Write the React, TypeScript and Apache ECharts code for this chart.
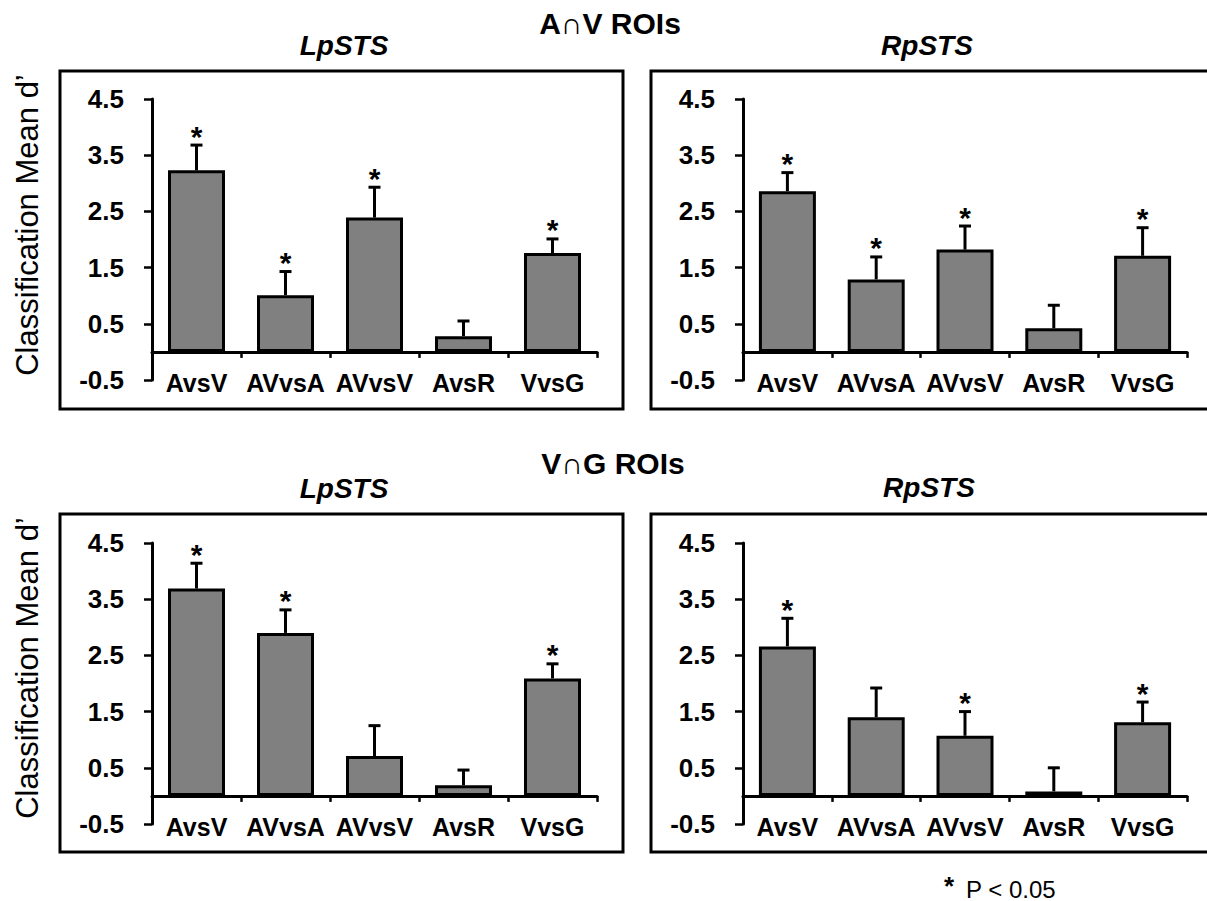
import React, { useEffect, useRef } from "react";
import * as echarts from "echarts";

// ---- data ----
const categories = ["AvsV", "AVvsA", "AVvsV", "AvsR", "VvsG"];
const yMin = -0.5;
const yMax = 4.5;
const yStep = 1;

// A∩V ROIs
const avLeftMean = [3.23, 1.01, 2.39, 0.28, 1.76];
const avLeftSem = [0.45, 0.42, 0.54, 0.27, 0.25];
const avLeftSig = [1, 1, 1, 0, 1];
const avRightMean = [2.86, 1.29, 1.82, 0.42, 1.71];
const avRightSem = [0.33, 0.4, 0.42, 0.41, 0.5];
const avRightSig = [1, 1, 1, 0, 1];

// V∩G ROIs
const vgLeftMean = [3.69, 2.9, 0.71, 0.19, 2.09];
const vgLeftSem = [0.45, 0.41, 0.54, 0.27, 0.26];
const vgLeftSig = [1, 1, 0, 0, 1];
const vgRightMean = [2.66, 1.4, 1.07, 0.08, 1.31];
const vgRightSem = [0.5, 0.52, 0.43, 0.42, 0.36];
const vgRightSig = [1, 0, 1, 0, 1];

const groupTitles = ["A\u2229V ROIs", "V\u2229G ROIs"];
const panelTitles = ["LpSTS", "RpSTS"];
const yAxisTitle = "Classification Mean d\u2019";
const footnoteStar = "*";
const footnoteText = "P < 0.05";

const FONT = "'Liberation Sans', Arial, Helvetica, sans-serif";

const panels = [
  { mean: avLeftMean, sem: avLeftSem, sig: avLeftSig, left: 152, top: 99, width: 445 },
  { mean: avRightMean, sem: avRightSem, sig: avRightSig, left: 743, top: 99, width: 444 },
  { mean: vgLeftMean, sem: vgLeftSem, sig: vgLeftSig, left: 152, top: 543, width: 445 },
  { mean: vgRightMean, sem: vgRightSem, sig: vgRightSig, left: 743, top: 543, width: 444 },
];

function buildOption() {
  const grid: any[] = [];
  const xAxis: any[] = [];
  const yAxis: any[] = [];
  const series: any[] = [];

  panels.forEach((p, i) => {
    grid.push({
      left: p.left,
      top: p.top,
      width: p.width,
      height: 281,
      containLabel: false,
      outerBoundsMode: "none",
    });
    xAxis.push({
      type: "category",
      gridIndex: i,
      data: categories,
      axisLine: { show: true, onZero: true, lineStyle: { color: "#000", width: 3 } },
      axisTick: { show: true, length: 6, lineStyle: { color: "#000", width: 2.5 } },
      axisLabel: {
        interval: 0,
        margin: -10,
        color: "#000",
        fontSize: 25,
        fontWeight: "bold",
        fontFamily: FONT,
      },
      splitLine: { show: false },
    });
    yAxis.push({
      type: "value",
      gridIndex: i,
      min: yMin,
      max: yMax,
      interval: yStep,
      axisLine: { show: true, lineStyle: { color: "#000", width: 3 } },
      axisTick: { show: true, length: 8, lineStyle: { color: "#000", width: 2.5 } },
      axisLabel: {
        margin: 28,
        color: "#000",
        fontSize: 26,
        fontWeight: "bold",
        fontFamily: FONT,
        formatter: (v: number) => v.toFixed(1),
      },
      splitLine: { show: false },
    });
    series.push({
      type: "bar",
      xAxisIndex: i,
      yAxisIndex: i,
      data: p.mean,
      barWidth: 57,
      itemStyle: { color: "#808080", borderColor: "#000", borderWidth: 3 },
      z: 2,
    });
    series.push({
      type: "custom",
      xAxisIndex: i,
      yAxisIndex: i,
      z: 3,
      encode: { x: 0, y: 1 },
      data: p.mean.map((m, k) => [k, m, +(m + p.sem[k]).toFixed(3), p.sig[k]]),
      renderItem: (params: any, api: any) => {
        const idx = api.value(0);
        const m = api.value(1);
        const t = api.value(2);
        const s = api.value(3);
        const p0 = api.coord([idx, m]);
        const p1 = api.coord([idx, t]);
        const children: any[] = [
          {
            type: "line",
            shape: { x1: p0[0], y1: p0[1], x2: p1[0], y2: p1[1] },
            style: { stroke: "#000", lineWidth: 3 },
          },
          {
            type: "line",
            shape: { x1: p1[0] - 6, y1: p1[1], x2: p1[0] + 6, y2: p1[1] },
            style: { stroke: "#000", lineWidth: 3 },
          },
        ];
        if (s) {
          children.push({
            type: "text",
            x: p1[0],
            y: p1[1] - 9,
            style: {
              text: "*",
              fontSize: 30,
              fontWeight: "bold",
              fontFamily: FONT,
              fill: "#000",
              align: "center",
              verticalAlign: "middle",
            },
          });
        }
        return { type: "group", children };
      },
    });
  });

  const boxes = [
    { x: 60, y: 71 },
    { x: 651, y: 71 },
    { x: 60, y: 514 },
    { x: 651, y: 514 },
  ].map((b) => ({
    type: "rect",
    shape: { x: b.x, y: b.y, width: 563, height: 338 },
    style: { fill: "none", stroke: "#000", lineWidth: 3 },
    z: 0,
  }));

  const txt = (text: string, x: number, y: number, extra: any = {}, rotation = 0) => ({
    type: "text",
    x,
    y,
    rotation,
    style: {
      text,
      fill: "#000",
      fontFamily: FONT,
      align: "center",
      verticalAlign: "middle",
      ...extra,
    },
    z: 10,
  });

  const graphic: any[] = [
    ...boxes,
    txt(groupTitles[0], 610, 23, { fontSize: 30, fontWeight: "bold" }),
    txt(groupTitles[1], 613, 463, { fontSize: 30, fontWeight: "bold" }),
    txt(panelTitles[0], 344, 45, { fontSize: 28, fontWeight: "bold", fontStyle: "italic" }),
    txt(panelTitles[1], 927, 45, { fontSize: 28, fontWeight: "bold", fontStyle: "italic" }),
    txt(panelTitles[0], 344, 488, { fontSize: 28, fontWeight: "bold", fontStyle: "italic" }),
    txt(panelTitles[1], 929, 487, { fontSize: 28, fontWeight: "bold", fontStyle: "italic" }),
    txt(yAxisTitle, 27, 225, { fontSize: 31 }, Math.PI / 2),
    txt(yAxisTitle, 27, 668, { fontSize: 31 }, Math.PI / 2),
    txt(footnoteStar, 949, 873, { fontSize: 26, fontWeight: "bold", verticalAlign: "top" }),
    txt(footnoteText, 966, 889, { fontSize: 24, align: "left" }),
  ];

  return {
    animation: false,
    backgroundColor: "#fff",
    grid,
    xAxis,
    yAxis,
    series,
    graphic,
  };
}

export default function App() {
  const ref = useRef<HTMLDivElement>(null);
  useEffect(() => {
    if (!ref.current) return;
    const chart = echarts.init(ref.current, undefined, { renderer: "svg" });
    chart.setOption(buildOption() as any);
    return () => chart.dispose();
  }, []);
  return (
    <div
      ref={ref}
      style={{ position: "absolute", left: 0, top: 0, width: 1207, height: 901, background: "#fff" }}
    />
  );
}
